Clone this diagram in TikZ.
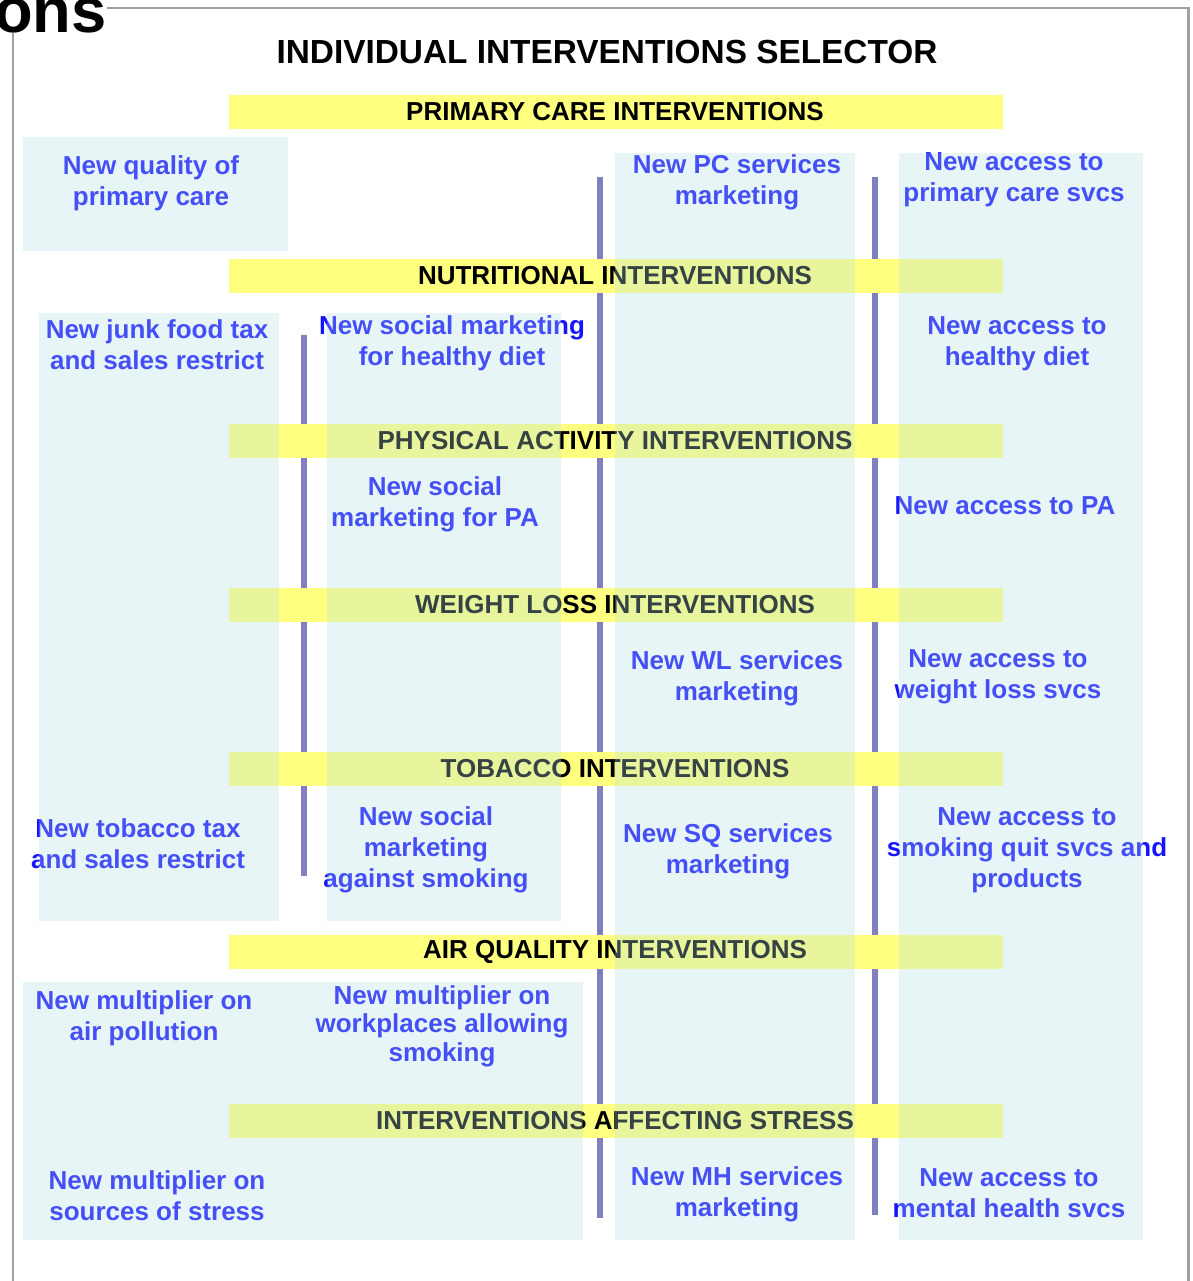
\documentclass[tikz,border=0pt]{standalone}
\usepackage{fontspec}
\setmainfont{Liberation Sans}

\definecolor{bandyellow}{RGB}{255,255,128}
\definecolor{colcyan}{RGB}{180,222,226}
\definecolor{itemblue}{RGB}{20,20,255}
\definecolor{barpurple}{RGB}{128,128,192}
\definecolor{framegray}{RGB}{160,160,160}

\tikzset{
  band/.style={fill=bandyellow},
  bandlabel/.style={font=\bfseries\fontsize{14.8}{17}\selectfont, text=black, inner sep=0pt},
  item/.style={font=\bfseries\fontsize{14.8}{17.6}\selectfont, text=itemblue, align=center, inner sep=0pt},
  column/.style={fill=colcyan, fill opacity=0.3},
  divider/.style={barpurple, line width=3.4pt},
}

\begin{document}
\begin{tikzpicture}[x=0.02cm, y=-0.02cm]
        \useasboundingbox (0,0) rectangle (1193,1281);

        \def\bandL{229}
        \def\bandR{1003}

        % frame and cut-off page title
        \draw[framegray, line width=1.7pt] (13,1300) -- (13,8) -- (1188,8) -- (1188,1300);
        \node[fill=white, inner sep=0pt, anchor=base east, font=\bfseries\fontsize{36}{36}\selectfont] (cut) at (107,32) {ons};

        \node[font=\bfseries\fontsize{19}{22}\selectfont] (title) at (607,52) {INDIVIDUAL INTERVENTIONS SELECTOR};

        % dividers
        \draw[divider] (600,177) -- (600,1218);
        \draw[divider] (875,177) -- (875,1215);
        \draw[divider] (304,335) -- (304,876);

        % bands
        \foreach \y/\name/\txt in {112/pc/PRIMARY CARE INTERVENTIONS,
                                   276/nutri/NUTRITIONAL INTERVENTIONS,
                                   441/phys/PHYSICAL ACTIVITY INTERVENTIONS,
                                   605/wl/WEIGHT LOSS INTERVENTIONS,
                                   769/tob/TOBACCO INTERVENTIONS,
                                   952/air/AIR QUALITY INTERVENTIONS,
                                   1121/stress/INTERVENTIONS AFFECTING STRESS}{
          \fill[band] (\bandL,\y-17) rectangle (\bandR,\y+17);
          \node[bandlabel] (\name) at (615,\y) {\txt};
        }

        % primary care
        \node[item] (pcqual) at (151,183) {New quality of\\primary care};
        \node[item] (pcmark) at (737,182) {New PC services\\marketing};
        \node[item] (pcacc) at (1014,180) {New access to\\primary care svcs};

        % nutrition
        \node[item] (junk) at (157,345) {New junk food tax\\and sales restrict};
        \node[item] (dietmark) at (452,343) {New social marketing\\for healthy diet};
        \node[item] (dietacc) at (1017,344) {New access to\\healthy diet};

        % physical activity
        \node[item] (pamark) at (435,504) {New social\\marketing for PA};
        \node[item] (paacc) at (1005,506) {New access to PA};

        % weight loss
        \node[item] (wlmark) at (737,678) {New WL services\\marketing};
        \node[item] (wlacc) at (998,677) {New access to\\weight loss svcs};

        % tobacco
        \node[item] (tobtax) at (138,844) {New tobacco tax\\and sales restrict};
        \node[item] (tobsoc) at (426,850) {New social\\marketing\\against smoking};
        \node[item] (sqmark) at (728,851) {New SQ services\\marketing};
        \node[item] (sqacc) at (1027,850) {New access to\\smoking quit svcs and\\products};

        % air quality
        \node[item] (airpol) at (144,1018) {New multiplier on\\air pollution};
        \node[item, font=\bfseries\fontsize{14.8}{16.2}\selectfont] (workpl) at (442,1026) {New multiplier on\\workplaces allowing\\smoking};

        % stress
        \node[item] (stresssrc) at (157,1196) {New multiplier on\\sources of stress};
        \node[item] (mhmark) at (737,1194) {New MH services\\marketing};
        \node[item] (mhacc) at (1009,1193) {New access to\\mental health svcs};

        % shaded columns laid over everything
        \fill[column] (23,137) rectangle (288,251);
        \fill[column] (39,313) rectangle (279,921);
        \fill[column] (327,313) rectangle (561,921);
        \fill[column] (615,153) rectangle (855,1240);
        \fill[column] (899,153) rectangle (1143,1240);
        \fill[column] (23,982) rectangle (583,1240);

\end{tikzpicture}
\end{document}
